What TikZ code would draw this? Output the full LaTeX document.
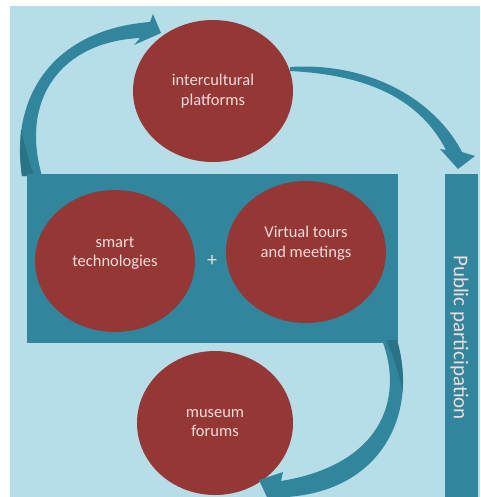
\documentclass[tikz,border=0pt]{standalone}
\usepackage{fontspec}
\setmainfont{Carlito}
\usepackage{xcolor}
\usetikzlibrary{shapes, positioning, calc}
\definecolor{paleblue}{HTML}{B7DEE8}
\definecolor{teal}{HTML}{31859C}
\definecolor{darkteal}{HTML}{2A7385}
\definecolor{darkred}{HTML}{953735}
\definecolor{pink}{HTML}{F2DCDB}

\begin{document}
\begin{tikzpicture}[x=1pt, y=-1pt,
		bubble/.style={ellipse, fill=darkred, minimum width=160pt, minimum height=142pt, inner sep=0pt},
		lbl/.style={text=pink, align=center, font=\fontsize{16.5}{19.5}\selectfont},
		flow/.style={fill=teal}]
		\useasboundingbox (0,0) rectangle (480,497);
		\fill [paleblue] (10,6) rectangle (480,497);

		% curved arrows
		\fill [flow] (22,176) .. controls (10,100) and (50,30) .. (150,22)
			-- (153,14) -- (161,33) -- (134,45) -- (140,38)
			.. controls (60,42) and (20,100) .. (42,176) -- cycle;
		\fill [darkteal] (22,176) .. controls (20,160) and (20,150) .. (21,130)
			.. controls (26,150) and (30,165) .. (34,176) -- cycle;
		\fill [flow] (290,67) .. controls (370,62) and (435,100) .. (462,152)
			-- (475,156) -- (458,169) -- (440,149) -- (446,150)
			.. controls (420,100) and (370,75) .. (290,71) -- cycle;

		\fill [teal] (27,174) rectangle (398,343);
		\node [fill=teal, minimum width=33pt, minimum height=323pt, inner sep=0pt] (bar) at (461.5,335.5) {};
		\node [rotate=-90, text=pink, font=\fontsize{21}{25}\selectfont] (pp) at ([xshift=-2pt, yshift=-2pt]bar.center) {Public participation};

		\node [bubble] (inter) at (213,91) {};
		\node [lbl] (interlbl) at (inter.center) {intercultural\\platforms};
		\node [bubble] (smart) at (115,261) {};
		\node [lbl] (smartlbl) at ([yshift=8pt]smart.center) {smart\\technologies};
		\node [bubble] (virtual) at (306,252) {};
		\node [lbl] (virtuallbl) at ([yshift=9pt]virtual.center) {Virtual tours\\and meetings};
		\node [lbl, font=\fontsize{20}{24}\selectfont] (plus) at (212,261) {+};
		\node [bubble, minimum width=156pt, minimum height=144pt] (museum) at (215,423) {};
		\node [lbl] (museumlbl) at (museum.center) {museum\\forums};

		\fill [flow] (397,340) .. controls (418,410) and (385,490) .. (287,497)
			-- (272,508) -- (259,480) -- (283,472) -- (281,481)
			.. controls (380,465) and (405,400) .. (382,340) -- cycle;
		\fill [darkteal] (397,340) .. controls (401,355) and (403,370) .. (403,392)
			.. controls (398,370) and (392,352) .. (386,340) -- cycle;
	\end{tikzpicture}
\end{document}
